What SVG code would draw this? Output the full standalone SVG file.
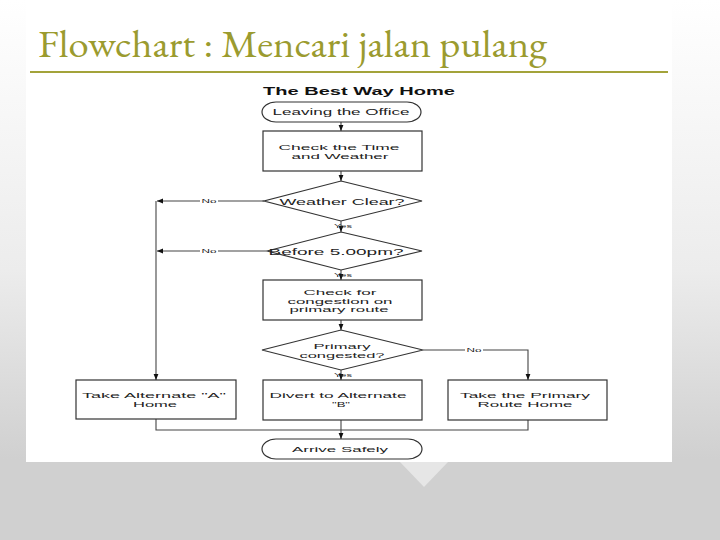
<svg xmlns="http://www.w3.org/2000/svg" width="720" height="540" viewBox="0 0 720 540">
<defs>
<linearGradient id="bg" x1="0" y1="0" x2="0" y2="1">
<stop offset="0" stop-color="#ffffff"/>
<stop offset="0.5" stop-color="#ececec"/>
<stop offset="0.85" stop-color="#d0d0d0"/>
<stop offset="1" stop-color="#d0d0d0"/>
</linearGradient>
<marker id="ah" viewBox="0 0 10 10" refX="10" refY="5" markerWidth="6" markerHeight="6" markerUnits="userSpaceOnUse" orient="auto">
<path d="M0,1 L10,5 L0,9 z" fill="#111"/>
</marker>
<style>
.shape{fill:#fff;stroke:#333;stroke-width:1.2}
.t{font-family:"Liberation Sans",Arial,sans-serif;font-size:8px;fill:#222;text-anchor:middle}
.t1{font-family:"Liberation Sans",Arial,sans-serif;font-size:9.5px;fill:#222;text-anchor:middle}
.s{font-family:"Liberation Sans",Arial,sans-serif;font-size:6px;fill:#222;text-anchor:middle}
.c{fill:none;stroke:#444;stroke-width:1.1}
.lbg{fill:#fff}
</style>
</defs>
<rect x="0" y="0" width="720" height="540" fill="url(#bg)"/>
<rect x="26" y="0" width="646" height="462" fill="#fff"/>
<polygon points="400,462 448,462 424,487" fill="#e6e6e6"/>
<text x="38" y="57" font-family="'EB Garamond','Liberation Serif','Times New Roman',serif" font-size="39" fill="#9b9b2f" textLength="509" lengthAdjust="spacingAndGlyphs">Flowchart : Mencari jalan pulang</text>
<line x1="30" y1="72" x2="668" y2="72" stroke="#a3a33a" stroke-width="2"/>

<text x="359" y="95" font-family="'Liberation Sans',Arial,sans-serif" font-size="10" font-weight="bold" fill="#111" text-anchor="middle" textLength="192" lengthAdjust="spacingAndGlyphs">The Best Way Home</text>

<g id="connectors">
<line class="c" x1="341" y1="122" x2="341" y2="131" marker-end="url(#ah)"/>
<line class="c" x1="341" y1="171" x2="341" y2="181" marker-end="url(#ah)"/>
<line class="c" x1="341" y1="221" x2="341" y2="232" marker-end="url(#ah)"/>
<line class="c" x1="341" y1="270" x2="341" y2="280" marker-end="url(#ah)"/>
<line class="c" x1="341" y1="320" x2="341" y2="330" marker-end="url(#ah)"/>
<line class="c" x1="341" y1="370" x2="341" y2="380" marker-end="url(#ah)"/>
<line class="c" x1="264" y1="201" x2="157" y2="201" marker-end="url(#ah)"/>
<line class="c" x1="267" y1="251" x2="157" y2="251" marker-end="url(#ah)"/>
<polyline class="c" points="156,201 156,380" stroke-width="1.8" marker-end="url(#ah)"/>
<polyline class="c" points="423,350 528,350 528,380" marker-end="url(#ah)"/>
<polyline class="c" points="156,419 156,430 528,430 528,420"/>
<line class="c" x1="341" y1="420" x2="341" y2="439" marker-end="url(#ah)"/>
<rect class="lbg" x="200" y="197" width="18" height="8"/>
<text class="s" x="209" y="203" textLength="15" lengthAdjust="spacingAndGlyphs">No</text>
<rect class="lbg" x="200" y="247" width="18" height="8"/>
<text class="s" x="209" y="253" textLength="15" lengthAdjust="spacingAndGlyphs">No</text>
<rect class="lbg" x="465" y="346" width="18" height="8"/>
<text class="s" x="474" y="352" textLength="15" lengthAdjust="spacingAndGlyphs">No</text>
<text class="s" x="343" y="227.5" textLength="18" lengthAdjust="spacingAndGlyphs">Yes</text>
<text class="s" x="343" y="277" textLength="18" lengthAdjust="spacingAndGlyphs">Yes</text>
<text class="s" x="343" y="376.5" textLength="18" lengthAdjust="spacingAndGlyphs">Yes</text>
</g>

<g id="start">
<rect class="shape" x="262" y="102" width="159" height="20" rx="14" ry="10"/>
<text class="t1" x="341" y="115" textLength="137" lengthAdjust="spacingAndGlyphs">Leaving the Office</text>
</g>
<g id="check-time">
<rect class="shape" x="263" y="131" width="159" height="40"/>
<text class="t" x="339" y="150" textLength="121" lengthAdjust="spacingAndGlyphs">Check the Time</text>
<text class="t" x="340" y="158.5" textLength="97" lengthAdjust="spacingAndGlyphs">and Weather</text>
</g>
<g id="weather">
<polygon class="shape" points="341,181 422,201 341,221 264,201"/>
<text class="t1" x="342" y="204.5" textLength="125" lengthAdjust="spacingAndGlyphs">Weather Clear?</text>
</g>
<g id="before5">
<polygon class="shape" points="341,232 422,251 341,270 267,251"/>
<text class="t1" x="336" y="254.5" textLength="135" lengthAdjust="spacingAndGlyphs">Before 5.00pm?</text>
</g>
<g id="check-congestion">
<rect class="shape" x="263" y="280" width="159" height="40"/>
<text class="t" x="340" y="295" textLength="73" lengthAdjust="spacingAndGlyphs">Check for</text>
<text class="t" x="340" y="303.5" textLength="105" lengthAdjust="spacingAndGlyphs">congestion on</text>
<text class="t" x="339" y="312" textLength="99" lengthAdjust="spacingAndGlyphs">primary route</text>
</g>
<g id="congested">
<polygon class="shape" points="341,330 423,350 341,370 262,350"/>
<text class="t" x="342" y="349" textLength="57" lengthAdjust="spacingAndGlyphs">Primary</text>
<text class="t" x="342" y="358" textLength="85" lengthAdjust="spacingAndGlyphs">congested?</text>
</g>
<g id="alt-a">
<rect class="shape" x="76" y="380" width="160" height="39"/>
<text class="t" x="154" y="398" textLength="144" lengthAdjust="spacingAndGlyphs">Take Alternate "A"</text>
<text class="t" x="155" y="406.5" textLength="44" lengthAdjust="spacingAndGlyphs">Home</text>
</g>
<g id="alt-b">
<rect class="shape" x="263" y="380" width="159" height="40"/>
<text class="t" x="338" y="398" textLength="137" lengthAdjust="spacingAndGlyphs">Divert to Alternate</text>
<text class="t" x="341" y="406.5" textLength="18" lengthAdjust="spacingAndGlyphs">"B"</text>
</g>
<g id="primary">
<rect class="shape" x="448" y="380" width="159" height="40"/>
<text class="t" x="525" y="398" textLength="130" lengthAdjust="spacingAndGlyphs">Take the Primary</text>
<text class="t" x="525" y="406.5" textLength="95" lengthAdjust="spacingAndGlyphs">Route Home</text>
</g>
<g id="end">
<rect class="shape" x="262" y="439" width="160" height="20" rx="14" ry="10"/>
<text class="t" x="340" y="452" textLength="96" lengthAdjust="spacingAndGlyphs">Arrive Safely</text>
</g>
</svg>
